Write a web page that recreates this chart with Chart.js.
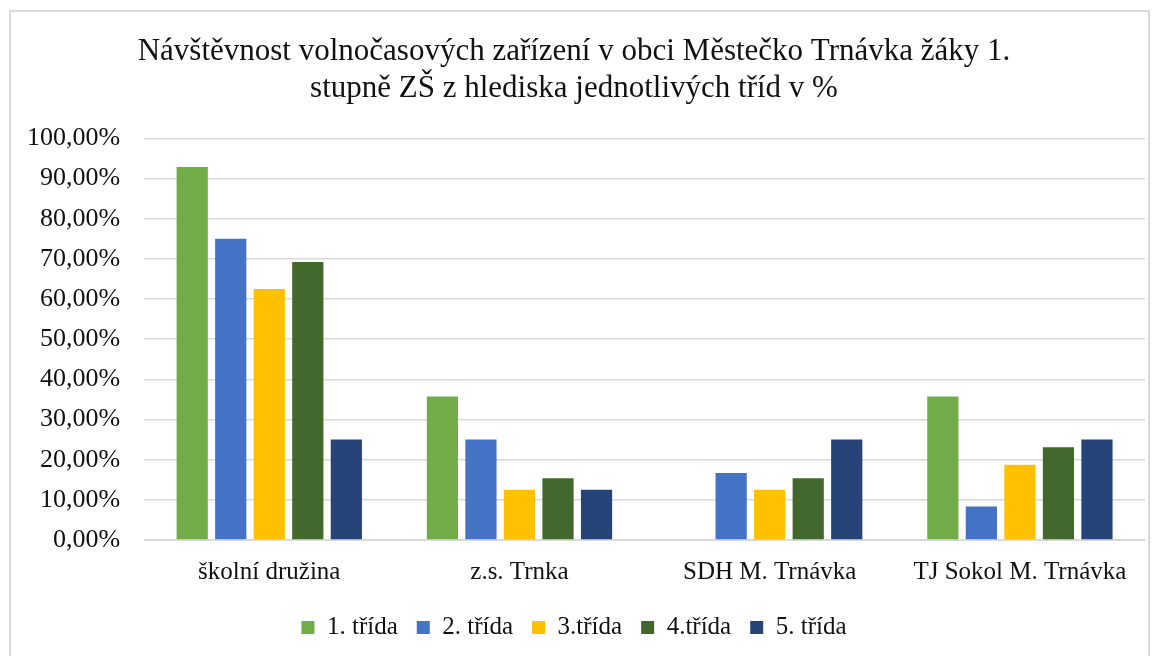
<!DOCTYPE html>
<html>
<head>
<meta charset="utf-8">
<script src="https://cdn.jsdelivr.net/npm/chart.js@4"></script>
<style>
  body { margin: 0; background: #fff; overflow: hidden; }
  #frame {
    position: absolute; left: 9px; top: 10px; width: 1141px; height: 660px;
    border: 2px solid #d9d9d9; box-sizing: border-box;
  }
  #wrap { position: absolute; left: 0; top: 0; width: 1162px; height: 650px; }
</style>
</head>
<body>
<div id="frame"></div>
<div id="wrap"><canvas id="chart"></canvas></div>
<script>
// categories and series (percent)
const categories = ['školní družina', 'z.s. Trnka', 'SDH M. Trnávka', 'TJ Sokol M. Trnávka'];
const trida1 = [92.86, 35.71, 0, 35.71];
const trida2 = [75.0, 25.0, 16.67, 8.33];
const trida3 = [62.5, 12.5, 12.5, 18.75];
const trida4 = [69.23, 15.38, 15.38, 23.08];
const trida5 = [25.0, 12.5, 25.0, 25.0];
const seriesNames = ['1. třída', '2. třída', '3.třída', '4.třída', '5. třída'];
const seriesColors = ['#70AD47', '#4472C4', '#FFC000', '#43682B', '#264478'];

const font = 'Liberation Serif, Times New Roman, serif';
const allSeries = [trida1, trida2, trida3, trida4, trida5];

new Chart(document.getElementById('chart'), {
  type: 'bar',
  data: {
    labels: categories,
    datasets: allSeries.map((d, i) => ({
      label: seriesNames[i],
      data: d,
      backgroundColor: seriesColors[i],
      categoryPercentage: 0.77,
      barPercentage: 0.81
    }))
  },
  options: {
    responsive: true,
    maintainAspectRatio: false,
    animation: false,
    layout: { padding: { top: 33, left: 3, right: 17, bottom: 0 } },
    plugins: {
      title: {
        display: true,
        text: ['Návštěvnost volnočasových zařízení v obci Městečko Trnávka žáky 1.', 'stupně ZŠ z hlediska jednotlivých tříd v %'],
        color: '#111',
        font: { family: font, size: 31, weight: 'normal', lineHeight: 1.2 },
        padding: { top: 0, bottom: 31 }
      },
      legend: {
        position: 'bottom',
        labels: {
          color: '#111',
          font: { family: font, size: 25 },
          boxWidth: 13,
          boxHeight: 13,
          padding: 19
        }
      },
      tooltip: { enabled: false }
    },
    scales: {
      x: {
        grid: { display: false },
        border: { color: '#d9d9d9' },
        ticks: { color: '#111', font: { family: font, size: 25 }, padding: 9 }
      },
      y: {
        min: 0,
        max: 100,
        border: { display: false },
        grid: { color: '#d9d9d9', lineWidth: 1.5, drawTicks: false },
        ticks: {
          stepSize: 10,
          color: '#111',
          padding: 24,
          font: { family: font, size: 26 },
          callback: v => v.toFixed(2).replace('.', ',') + '%'
        }
      }
    }
  }
});
</script>
</body>
</html>
